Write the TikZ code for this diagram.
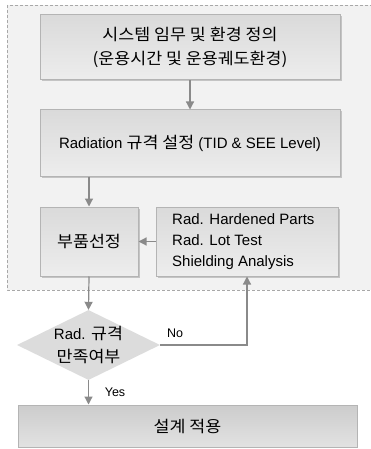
\documentclass[tikz,border=0pt]{standalone}
\usepackage{fontspec}
\setmainfont{Liberation Sans}
\newfontfamily\krf{Noto Sans CJK KR}[Scale=1.07, FakeStretch=1.08]
\usetikzlibrary{shapes.geometric,arrows.meta}
\definecolor{bordergray}{HTML}{B4B4B4}
\definecolor{arrowgray}{HTML}{8A8A8A}
\definecolor{regionfill}{HTML}{F2F2F2}
\definecolor{dashgray}{HTML}{A8A8A8}
\definecolor{boxtop}{HTML}{DADADA}
\definecolor{boxbot}{HTML}{EDEDED}
\definecolor{lasttop}{HTML}{CCCCCC}
\definecolor{lastbot}{HTML}{E2E2E2}
\definecolor{diafill}{HTML}{DCDCDC}
\definecolor{shadowgray}{HTML}{C4C4C4}
\tikzset{
  stepbox/.style={draw=bordergray, line width=1pt, top color=boxtop, bottom color=boxbot,
    inner sep=0pt, align=center, font=\fontsize{15}{24}\selectfont},
  boxshadow/.style={fill=shadowgray, draw=none},
  lastbox/.style={stepbox, top color=lasttop, bottom color=lastbot},
  decision/.style={diamond, draw=none, fill=diafill, inner sep=0pt, minimum width=143pt, minimum height=70pt},
  flow/.style={draw=arrowgray, line width=1.2pt, -{Triangle[width=8pt,length=8pt]}},
  plain/.style={draw=arrowgray, line width=1.2pt},
  lbl/.style={font=\fontsize{12.5}{14}\selectfont, inner sep=0pt},
  txt/.style={font=\fontsize{15}{21}\selectfont, inner sep=0pt}
}
\begin{document}
\begin{tikzpicture}[x=1pt,y=-1pt]
\useasboundingbox (0,0) rectangle (371,449);
\clip (0,0) rectangle (371,449);
\fill[white] (0,0) rectangle (371,449);
% dashed region
\draw[dashgray, fill=regionfill, dash pattern=on 3pt off 2pt, line width=0.8pt] (7,5) rectangle (390,290);
% shadows
\fill[boxshadow] (41.5,16.5) rectangle (341.5,81.5);
\fill[boxshadow] (41.5,111.5) rectangle (341.5,177.5);
\fill[boxshadow] (41.5,208.5) rectangle (139.5,277.5);
\fill[boxshadow] (157.5,208.5) rectangle (339.5,277.5);
% boxes
\node[stepbox, minimum width=300pt, minimum height=65pt] (b1) at (190,47.5)
  {\krf 시스템 임무 및 환경 정의\\\krf (운용시간 및 운용궤도환경)};
\node[stepbox, minimum width=300pt, minimum height=66pt] (b2) at (190,143)
  {Radiation {\krf 규격 설정} (TID \& SEE Level)};
\node[stepbox, minimum width=98pt, minimum height=69pt] (b3) at (89,241.5)
  {\krf 부품선정};
\node[stepbox, minimum width=182pt, minimum height=69pt] (b4) at (247,241.5) {};
\node[txt, anchor=west, align=left] (b4t) at (172,241.5)
  {Rad. Hardened Parts\\Rad. Lot Test\\Shielding Analysis};
\node[decision] (dia) at (88.5,345) {};
\node[txt, align=center, font=\fontsize{15}{23}\selectfont] (diat) at (dia.center)
  {Rad. {\krf 규격}\\\krf 만족여부};
\node[lastbox, minimum width=339pt, minimum height=42pt] (b5) at (187.5,426)
  {\krf 설계 적용};
% connectors
\draw[flow] (b1.south) -- (b2.north);
\draw[flow] (b2.south -| b3.north) -- (b3.north);
\draw[flow] (b4.west) -- (b3.east);
\draw[flow] (b3.south) -- (dia.north);
\draw[flow] (dia.east) -| (b4.south);
\draw[flow] (dia.south) -- (dia.south |- b5.north);
\node[lbl] (no) at (175,333) {No};
\node[lbl] (yes) at (115,392) {Yes};
\end{tikzpicture}
\end{document}
